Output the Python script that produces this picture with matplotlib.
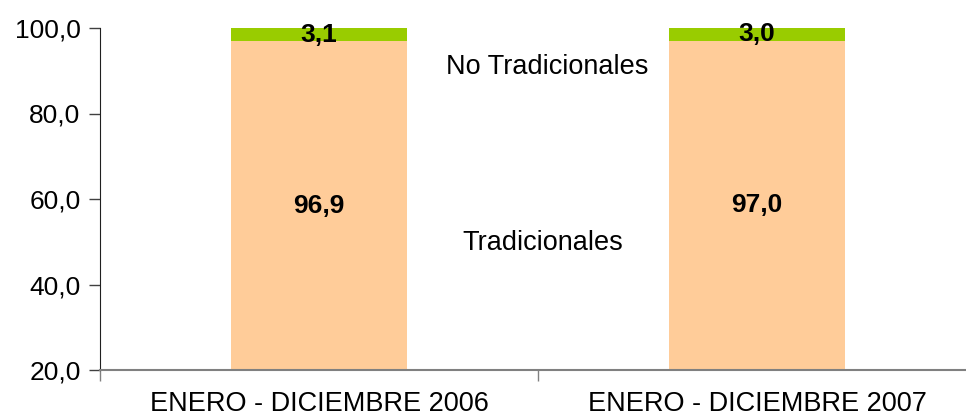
import matplotlib
matplotlib.use('Agg')
import matplotlib.pyplot as plt
import numpy as np

# Datos del gráfico (porcentajes)
periodos = ['ENERO - DICIEMBRE 2006', 'ENERO - DICIEMBRE 2007']
tradicionales = [96.9, 97.0]
no_tradicionales = [3.1, 3.0]
y_ticks = [20, 40, 60, 80, 100]

color_trad = '#FFCC99'
color_no_trad = '#99CC00'

plt.rcParams['font.family'] = ['Liberation Sans', 'DejaVu Sans']

fig = plt.figure(figsize=(9.66, 4.16), dpi=100)
ax = fig.add_axes([100 / 966, 46 / 416, 876 / 966, 342 / 416])

x = np.arange(len(periodos))
ancho = 0.40
ax.bar(x, tradicionales, width=ancho, color=color_trad, zorder=2)
ax.bar(x, no_tradicionales, width=ancho, bottom=tradicionales, color=color_no_trad, zorder=2)

ax.set_xlim(-0.5, len(periodos) - 0.5)
ax.set_ylim(20, 100)

# Etiquetas de valores dentro de las barras
y_min = ax.get_ylim()[0]
for i in range(len(periodos)):
    centro_trad = (y_min + tradicionales[i]) / 2
    ax.text(x[i], centro_trad, f'{tradicionales[i]:.1f}'.replace('.', ','),
            ha='center', va='center', fontsize=19, fontweight='bold', zorder=3)
    centro_no = tradicionales[i] + no_tradicionales[i] / 2
    ax.text(x[i], centro_no, f'{no_tradicionales[i]:.1f}'.replace('.', ','),
            ha='center', va='center', fontsize=19, fontweight='bold', zorder=3)

# Nombres de las series en el centro
ax.text(0.52, 90.9, 'No Tradicionales', ha='center', va='center', fontsize=19.5)
ax.text(0.51, 49.8, 'Tradicionales', ha='center', va='center', fontsize=19.5)

# Eje Y
ax.set_yticks(y_ticks)
ax.set_yticklabels([f'{v:.1f}'.replace('.', ',') for v in y_ticks], fontsize=19)
ax.tick_params(axis='y', direction='out', length=8, width=1, color='#404040', pad=6)

# Eje X: marcas en los límites de categoría, etiquetas en el centro
ax.set_xticks(np.arange(len(periodos) + 1) - 0.5)
ax.set_xticklabels([])
ax.set_xticks(x, minor=True)
ax.set_xticklabels(periodos, minor=True, fontsize=19.5)
ax.tick_params(axis='x', which='major', direction='out', length=8, width=1, color='#808080')
ax.tick_params(axis='x', which='minor', length=0, pad=15)

for lado in ['top', 'right']:
    ax.spines[lado].set_visible(False)
ax.spines['left'].set_color('#202020')
ax.spines['bottom'].set_color('#808080')
ax.spines['bottom'].set_linewidth(1.5)
ax.spines['bottom'].set_zorder(3)

fig.savefig('out.png', dpi=100)
